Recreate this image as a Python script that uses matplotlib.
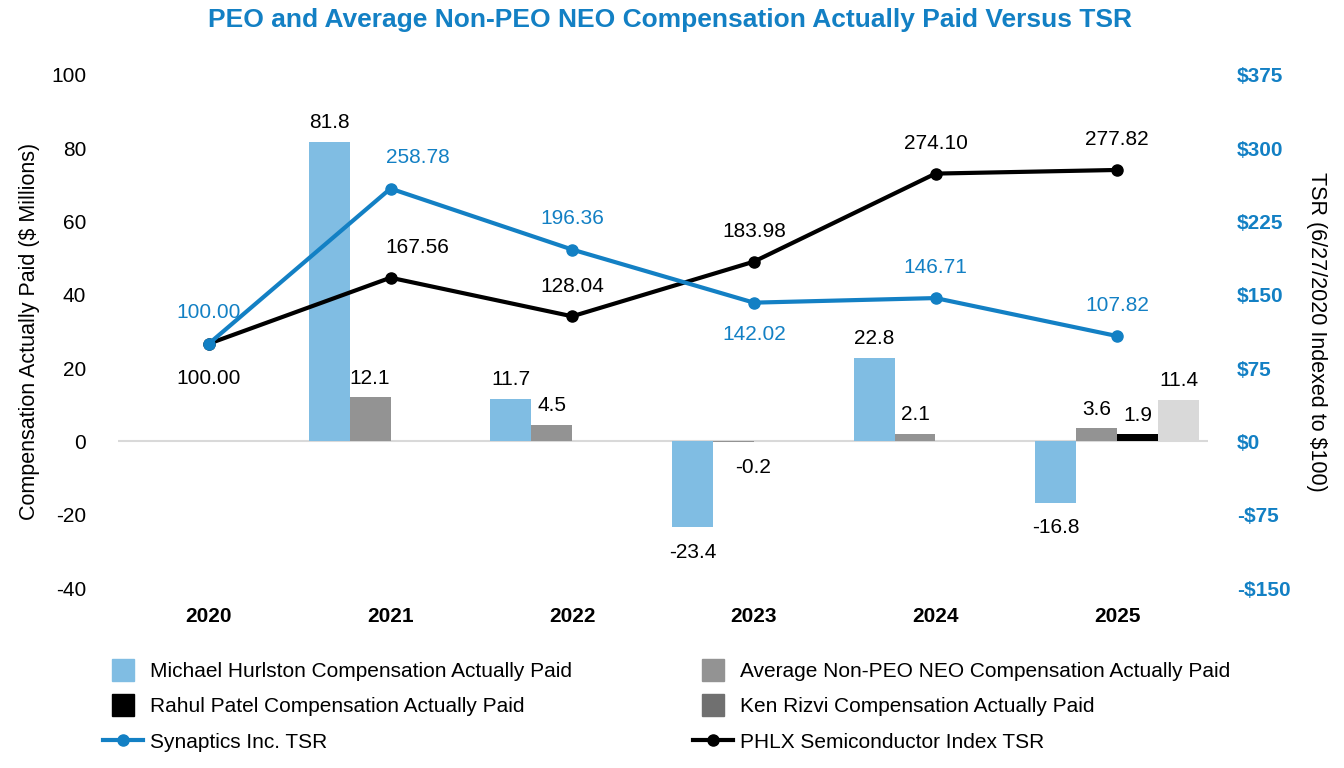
import matplotlib.pyplot as plt
from matplotlib.patches import Patch, Rectangle
from matplotlib.lines import Line2D
from matplotlib.legend_handler import HandlerPatch
import numpy as np

plt.rcParams['font.family'] = ['Liberation Sans', 'DejaVu Sans']
plt.rcParams['axes.unicode_minus'] = False

### data
years = ['2020', '2021', '2022', '2023', '2024', '2025']
hurlston = [np.nan, 81.8, 11.7, -23.4, 22.8, -16.8]
avg_neo = [np.nan, 12.1, 4.5, -0.2, 2.1, 3.6]
patel = [np.nan, np.nan, np.nan, np.nan, np.nan, 1.9]
rizvi = [np.nan, np.nan, np.nan, np.nan, np.nan, 11.4]
syna_tsr = [100.00, 258.78, 196.36, 142.02, 146.71, 107.82]
phlx_tsr = [100.00, 167.56, 128.04, 183.98, 274.10, 277.82]
# label above (+1) or below (-1) the point
syna_pos = [1, 1, 1, -1, 1, 1]
phlx_pos = [-1, 1, 1, 1, 1, 1]

blue = '#1380c4'
light_blue = '#80bde3'
gray = '#939393'
dark_gray = '#707070'
light_gray = '#d9d9d9'
fs = 15

fig = plt.figure(figsize=(13.44, 7.68), dpi=100)
ax = fig.add_axes([118/1344, 1-588/768, 1090/1344, 513/768])
ax2 = ax.twinx()

x = np.arange(len(years))
w = 0.225
series = [(hurlston, light_blue), (avg_neo, gray), (patel, 'black'), (rizvi, light_gray)]
nudge = {(1, 3): 20}  # the -0.2 label sits a bit right in the original
for i, (vals, col) in enumerate(series):
    xs = x + (i - 1.5) * w
    ax.bar(xs, vals, width=w, color=col, zorder=2)
    for j, (xi, v) in enumerate(zip(xs, vals)):
        if np.isnan(v):
            continue
        off = 19 if v >= 0 else -25
        ax.annotate('{:.1f}'.format(v), (xi, v), xytext=(nudge.get((i, j), 0), off),
                    textcoords='offset pixels', ha='center', va='center', fontsize=fs)

ax.axhline(0, color='#d9d9d9', lw=1.5, zorder=1)
ax.set_xlim(-0.5, 5.5)
ax.set_ylim(-40, 100)
ax.set_yticks(range(-40, 101, 20))
ax.set_xticks(x)
ax.set_xticklabels(years, fontweight='bold', fontsize=fs)
ax.tick_params(axis='both', length=0, labelsize=fs)
ax.tick_params(axis='x', pad=14)
ax.tick_params(axis='y', pad=23)
ax.set_ylabel('Compensation Actually Paid ($ Millions)', fontsize=15.5, labelpad=8)

tsr_ticks = list(range(-150, 376, 75))
ax2.set_ylim(-150, 375)
ax2.set_yticks(tsr_ticks)
ax2.set_yticklabels([('-${}'.format(-t) if t < 0 else '${}'.format(t)) for t in tsr_ticks],
                    color=blue, fontweight='bold', fontsize=fs)
ax2.tick_params(axis='y', length=0, pad=21)
ax2.set_ylabel('TSR (6/27/2020 Indexed to $100)', rotation=270, fontsize=15.5, labelpad=26)

ax2.plot(x, phlx_tsr, color='black', lw=3, marker='o', ms=8, zorder=3)
ax2.plot(x, syna_tsr, color=blue, lw=3, marker='o', ms=8, zorder=4)
for k, (v, p) in enumerate(zip(syna_tsr, syna_pos)):
    ax2.annotate('{:.2f}'.format(v), (x[k], v), xytext=(27 if k == 1 else 0, 31 if p > 0 else -32),
                 textcoords='offset pixels', ha='center', va='center', fontsize=fs, color=blue)
for k, (v, p) in enumerate(zip(phlx_tsr, phlx_pos)):
    ax2.annotate('{:.2f}'.format(v), (x[k], v), xytext=(27 if k == 1 else 0, 30 if p > 0 else -35),
                 textcoords='offset pixels', ha='center', va='center', fontsize=fs)

for a in (ax, ax2):
    for s in a.spines.values():
        s.set_visible(False)

fig.text(670/1344, 1-20/768, 'PEO and Average Non-PEO NEO Compensation Actually Paid Versus TSR',
         ha='center', va='center', color=blue, fontweight='bold', fontsize=19)


def square(legend, orig_handle, xdescent, ydescent, width, height, fontsize):
    # small square swatch centred in the (longer) handle box
    s = 22 * 72 / 100
    return Rectangle((-xdescent + (width - s) / 2, -ydescent + (height - s) / 2), s, s)


handles = [
    Patch(color=light_blue, label='Michael Hurlston Compensation Actually Paid'),
    Patch(color='black', label='Rahul Patel Compensation Actually Paid'),
    Line2D([], [], color=blue, lw=3, marker='o', ms=8, label='Synaptics Inc. TSR'),
    Patch(color=gray, label='Average Non-PEO NEO Compensation Actually Paid'),
    Patch(color=dark_gray, label='Ken Rizvi Compensation Actually Paid'),
    Line2D([], [], color='black', lw=3, marker='o', ms=8, label='PHLX Semiconductor Index TSR'),
]
fig.legend(handles=handles, ncol=2, loc='upper left', bbox_to_anchor=(103/1344, 1-660/768),
           frameon=False, fontsize=fs, handlelength=1.92, handleheight=1.06,
           handletextpad=0.35, columnspacing=5.8, labelspacing=0.71,
           borderpad=0, borderaxespad=0, handler_map={Patch: HandlerPatch(patch_func=square)})

fig.savefig('out.png', dpi=100)
